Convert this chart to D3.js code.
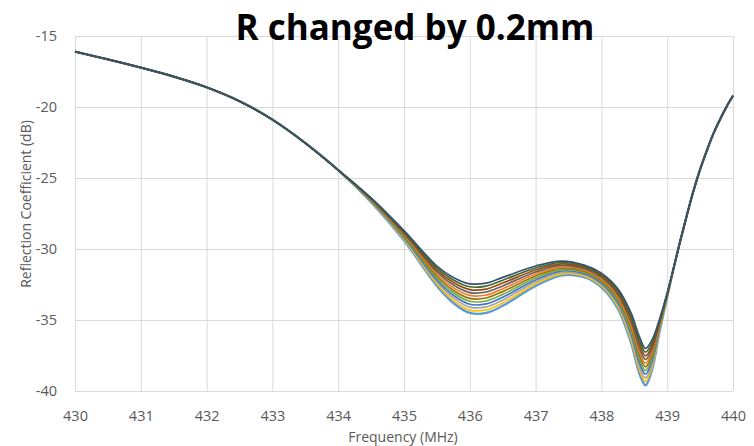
<!DOCTYPE html>
<html>
<head>
<meta charset="utf-8">
<script src="https://cdn.jsdelivr.net/npm/d3@7"></script>
<style>
    body { margin: 0; background: #fff; }
    svg { display: block; }
</style>
</head>
<body>
<div id="chart"></div>
<script>

//Left part of the sweep, all curves lie on top of each other here
const freqLeft = [430, 430.5, 431, 431.5, 432, 432.5, 433, 433.5, 434];
const dbLeft = [-16.1, -16.65, -17.23, -17.86, -18.61, -19.59, -20.89, -22.54, -24.44];

//Frequencies where the curves split apart
const freqMid = [434.5, 435, 435.5, 435.75, 436, 436.25, 436.5, 437, 437.4, 437.75, 438, 438.25, 438.45, 438.58, 438.67, 438.77, 438.88, 439];

//One array per R step, lowest curve first
const r01 = [-26.70, -29.40, -32.60, -33.80, -34.50, -34.50, -34.00, -32.60, -31.85, -32.00, -32.70, -34.20, -36.60, -38.80, -39.60, -38.50, -35.90, -33.40];
const r02 = [-26.67, -29.33, -32.46, -33.62, -34.30, -34.29, -33.80, -32.46, -31.75, -31.92, -32.60, -34.06, -36.39, -38.54, -39.34, -38.29, -35.81, -33.37];
const r03 = [-26.64, -29.26, -32.32, -33.44, -34.09, -34.08, -33.60, -32.32, -31.65, -31.83, -32.50, -33.92, -36.18, -38.28, -39.08, -38.08, -35.72, -33.34];
const r04 = [-26.61, -29.19, -32.18, -33.26, -33.89, -33.87, -33.40, -32.18, -31.55, -31.75, -32.40, -33.78, -35.97, -38.02, -38.82, -37.87, -35.63, -33.31];
const r05 = [-26.58, -29.12, -32.04, -33.08, -33.68, -33.66, -33.20, -32.04, -31.45, -31.66, -32.30, -33.64, -35.76, -37.76, -38.56, -37.66, -35.54, -33.28];
const r06 = [-26.55, -29.05, -31.90, -32.90, -33.48, -33.45, -33.00, -31.90, -31.35, -31.58, -32.20, -33.50, -35.55, -37.50, -38.30, -37.45, -35.45, -33.25];
const r07 = [-26.52, -28.98, -31.76, -32.72, -33.27, -33.24, -32.80, -31.76, -31.25, -31.49, -32.10, -33.36, -35.34, -37.24, -38.04, -37.24, -35.36, -33.22];
const r08 = [-26.49, -28.91, -31.62, -32.54, -33.07, -33.03, -32.60, -31.62, -31.15, -31.41, -32.00, -33.22, -35.13, -36.98, -37.78, -37.03, -35.27, -33.19];
const r09 = [-26.46, -28.84, -31.48, -32.36, -32.86, -32.82, -32.40, -31.48, -31.05, -31.32, -31.90, -33.08, -34.92, -36.72, -37.52, -36.82, -35.18, -33.16];
const r10 = [-26.43, -28.77, -31.34, -32.18, -32.66, -32.61, -32.20, -31.34, -30.95, -31.24, -31.80, -32.94, -34.71, -36.46, -37.26, -36.61, -35.09, -33.13];
const r11 = [-26.40, -28.70, -31.20, -32.00, -32.45, -32.40, -32.00, -31.20, -30.85, -31.15, -31.70, -32.80, -34.50, -36.20, -37.00, -36.40, -35.00, -33.10];

//Right part of the sweep, curves join again
const freqRight = [439.1, 439.2, 439.3, 439.4, 439.5, 439.6, 439.7, 439.8, 439.9, 440];
const dbRight = [-31.3, -29.4, -27.6, -25.9, -24.4, -23.1, -21.9, -20.9, -20.0, -19.2];

const seriesMid = [r01, r02, r03, r04, r05, r06, r07, r08, r09, r10, r11];
const seriesColors = ["#5B9BD5", "#FFC000", "#A5A5A5", "#4472C4", "#70AD47", "#997300",
    "#ED7D31", "#636363", "#9E480E", "#43682B", "#35536F"];

const xTicks = [430, 431, 432, 433, 434, 435, 436, 437, 438, 439, 440];
const yTicks = [-40, -35, -30, -25, -20, -15];

const chartTitle = "R changed by 0.2mm";
const xTitle = "Frequency (MHz)";
const yTitle = "Reflection Coefficient (dB)";

class SweepChart {

    //Constructor method to initialize the visualization
    constructor(_parentElement) {
        this.parentElement = _parentElement;
        this.displayData = [];
        this.initVis();
    }

    //Method to initialize the visualization
    initVis() {
        let vis = this;
        vis.margin = { top: 36, right: 21, bottom: 55, left: 75 };
        vis.width = 754 - vis.margin.left - vis.margin.right;
        vis.height = 446 - vis.margin.top - vis.margin.bottom;

        vis.svgRoot = d3.select(vis.parentElement)
            .append("svg")
            .attr("width", 754)
            .attr("height", 446);

        vis.svg = vis.svgRoot.append("g")
            .attr("transform", `translate(${vis.margin.left},${vis.margin.top})`);

        vis.x = d3.scaleLinear().domain([430, 440]).range([0, vis.width]);
        vis.y = d3.scaleLinear().domain([-40, -15]).range([vis.height, 0]);

        vis.xAxis = vis.svg.append("g")
            .attr("class", "x-axis")
            .attr("transform", `translate(0,${vis.height})`)
            .call(d3.axisBottom(vis.x).tickValues(xTicks).tickFormat(d3.format("d"))
                .tickSize(-vis.height).tickPadding(20));

        vis.yAxis = vis.svg.append("g")
            .attr("class", "y-axis")
            .call(d3.axisLeft(vis.y).tickValues(yTicks).tickFormat(d => String(d))
                .tickSize(-vis.width).tickPadding(18));

        vis.svg.selectAll(".domain").remove();
        vis.svg.selectAll(".tick line")
            .attr("stroke", "#d9d9d9")
            .attr("stroke-width", 1);
        vis.svg.selectAll(".tick text")
            .attr("fill", "#595959")
            .style("font-family", "'Open Sans', sans-serif")
            .style("font-size", "14.5px");

        vis.line = d3.line()
            .x(d => vis.x(d.f))
            .y(d => vis.y(d.db))
            .curve(d3.curveCatmullRom.alpha(0.5));

        vis.linesGroup = vis.svg.append("g").attr("class", "sweep-lines");

        vis.svgRoot.append("text")
            .attr("x", vis.margin.left + vis.width / 2 - 1)
            .attr("y", 442)
            .attr("text-anchor", "middle")
            .attr("fill", "#595959")
            .style("font-family", "'Open Sans', sans-serif")
            .style("font-size", "14px")
            .text(xTitle);

        vis.svgRoot.append("text")
            .attr("transform", "translate(31,204) rotate(-90)")
            .attr("text-anchor", "middle")
            .attr("fill", "#595959")
            .style("font-family", "'Open Sans', sans-serif")
            .style("font-size", "14px")
            .text(yTitle);

        vis.svgRoot.append("text")
            .attr("x", 415)
            .attr("y", 40)
            .attr("text-anchor", "middle")
            .attr("fill", "#000")
            .style("font-family", "'Open Sans', sans-serif")
            .style("font-weight", "bold")
            .style("font-size", "35px")
            .text(chartTitle);

        vis.wrangleData();
    }

    //Method to wrangle the data
    wrangleData() {
        let vis = this;
        vis.displayData = seriesMid.map((mid, i) => ({
            color: seriesColors[i],
            values: []
                .concat(freqLeft.map((f, j) => ({ f: f, db: dbLeft[j] })))
                .concat(freqMid.map((f, j) => ({ f: f, db: mid[j] })))
                .concat(freqRight.map((f, j) => ({ f: f, db: dbRight[j] })))
        }));
        vis.updateVis();
    }

    //Method to update the visualization
    updateVis() {
        let vis = this;
        vis.linesGroup.selectAll(".sweep-line")
            .data(vis.displayData)
            .join("path")
            .attr("class", "sweep-line")
            .attr("fill", "none")
            .attr("stroke", d => d.color)
            .attr("stroke-width", (d, i) => i === 0 ? 2.4 : 1.7)
            .attr("d", d => vis.line(d.values));
    }
}

new SweepChart("#chart");

</script>
</body>
</html>
